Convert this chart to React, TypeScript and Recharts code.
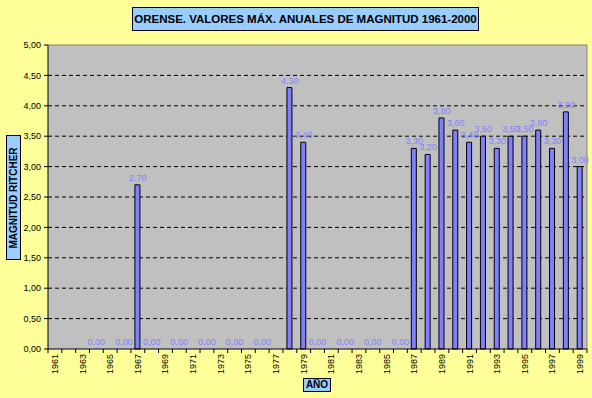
import { Bar, CartesianGrid, ComposedChart, LabelList, Line, ReferenceLine, XAxis, YAxis } from "recharts";

const years = [
  "1961", "1962", "1963", "1964", "1965", "1966", "1967", "1968", "1969", "1970",
  "1971", "1972", "1973", "1974", "1975", "1976", "1977", "1978", "1979", "1980",
  "1981", "1982", "1983", "1984", "1985", "1986", "1987", "1988", "1989", "1990",
  "1991", "1992", "1993", "1994", "1995", "1996", "1997", "1998", "1999",
];

// null = year without a value (no bar, no label)
const magnitudes: (number | null)[] = [
  null, null, null, 0, null, 0, 2.7, 0, null, 0,
  null, 0, null, 0, null, 0, null, 4.3, 3.4, 0,
  null, 0, null, 0, null, 0, 3.3, 3.2, 3.8, 3.6,
  3.4, 3.5, 3.3, 3.5, 3.5, 3.6, 3.3, 3.9, 3.0,
];

const yTicks = [0, 0.5, 1, 1.5, 2, 2.5, 3, 3.5, 4, 4.5, 5];
const gridValues = [0.5, 1, 1.5, 2, 2.5, 3, 3.5, 4, 4.5];

const data = years.map((year, i) => ({ year, value: magnitudes[i] }));

const W = 592;
const H = 398;
const PLOT_W = 539;
const BAND = PLOT_W / years.length;
const FONT = "'Liberation Sans', Arial, sans-serif";

const fmt = (v: number) => v.toFixed(2).replace(".", ",");

function YearTick(props: any) {
  const { x, y, payload, index } = props;
  const last = index === years.length - 1;
  return (
    <g>
      <line x1={x - BAND / 2} y1={y} x2={x - BAND / 2} y2={y + 4} stroke="#000" />
      {last && <line x1={x + BAND / 2} y1={y} x2={x + BAND / 2} y2={y + 4} stroke="#000" />}
      {index % 2 === 0 && (
        <text
          x={x + 3}
          y={y + 5}
          transform={`rotate(-90, ${x + 3}, ${y + 5})`}
          textAnchor="end"
          fontSize={9}
          fontFamily={FONT}
          fill="#000"
        >
          {payload.value}
        </text>
      )}
    </g>
  );
}

// labels sit on an invisible line so that zero values still get their "0,00"
function ValueLabel(props: any) {
  const { x, y, value } = props;
  if (value == null || x == null || y == null) return null;
  return (
    <text x={x} y={y - 4} textAnchor="middle" fontSize={9} fontFamily={FONT} fill="#8080ff">
      {fmt(Number(value))}
    </text>
  );
}

export default function App() {
  return (
    <div
      style={{
        position: "absolute",
        left: 0,
        top: 0,
        width: W,
        height: H,
        background: "#ffff99",
        fontFamily: FONT,
      }}
    >
      <ComposedChart width={W} height={H} data={data} margin={{ top: 45, right: 5, left: 8, bottom: 0 }}>
        <CartesianGrid
          fill="#c0c0c0"
          vertical={false}
          horizontalValues={gridValues}
          stroke="#000"
          strokeDasharray="4 3"
        />
        <XAxis
          dataKey="year"
          interval={0}
          height={49}
          tickSize={0}
          tickMargin={0}
          tickLine={false}
          axisLine={{ stroke: "#000" }}
          tick={<YearTick />}
        />
        <YAxis
          width={40}
          domain={[0, 5]}
          ticks={yTicks}
          tickFormatter={fmt}
          tickSize={4}
          tickMargin={3}
          axisLine={{ stroke: "#000" }}
          tickLine={{ stroke: "#000" }}
          tick={{ fontSize: 9, fill: "#000", fontFamily: FONT }}
        />
        <ReferenceLine y={5} stroke="#808080" />
        <ReferenceLine x="1999" position="end" stroke="#808080" />
        <Bar dataKey="value" fill="#7f7fff" stroke="#000" strokeWidth={1} barSize={5} isAnimationActive={false} />
        <Line
          dataKey="value"
          stroke="none"
          dot={false}
          activeDot={false}
          legendType="none"
          isAnimationActive={false}
        >
          <LabelList dataKey="value" content={<ValueLabel />} />
        </Line>
      </ComposedChart>

      <div
        style={{
          position: "absolute",
          left: 132,
          top: 7,
          width: 345,
          height: 22,
          background: "#99ccff",
          border: "1px solid #000",
          fontWeight: "bold",
          fontSize: 11.5,
          lineHeight: "22px",
          textAlign: "center",
          whiteSpace: "nowrap",
        }}
      >
        ORENSE. VALORES MÁX. ANUALES DE MAGNITUD 1961-2000
      </div>

      <div
        style={{
          position: "absolute",
          left: 6,
          top: 135,
          width: 13,
          height: 123,
          background: "#99ccff",
          border: "1px solid #000",
        }}
      >
        <div
          style={{
            position: "absolute",
            left: 6.5,
            top: 61.5,
            transform: "translate(-50%, -50%) rotate(-90deg)",
            fontWeight: "bold",
            fontSize: 10,
            whiteSpace: "nowrap",
            lineHeight: "12px",
          }}
        >
          MAGNITUD RITCHER
        </div>
      </div>

      <div
        style={{
          position: "absolute",
          left: 303,
          top: 378,
          width: 26,
          height: 12,
          background: "#99ccff",
          border: "1px solid #000",
          fontWeight: "bold",
          fontSize: 10,
          lineHeight: "12px",
          textAlign: "center",
        }}
      >
        AÑO
      </div>
    </div>
  );
}
